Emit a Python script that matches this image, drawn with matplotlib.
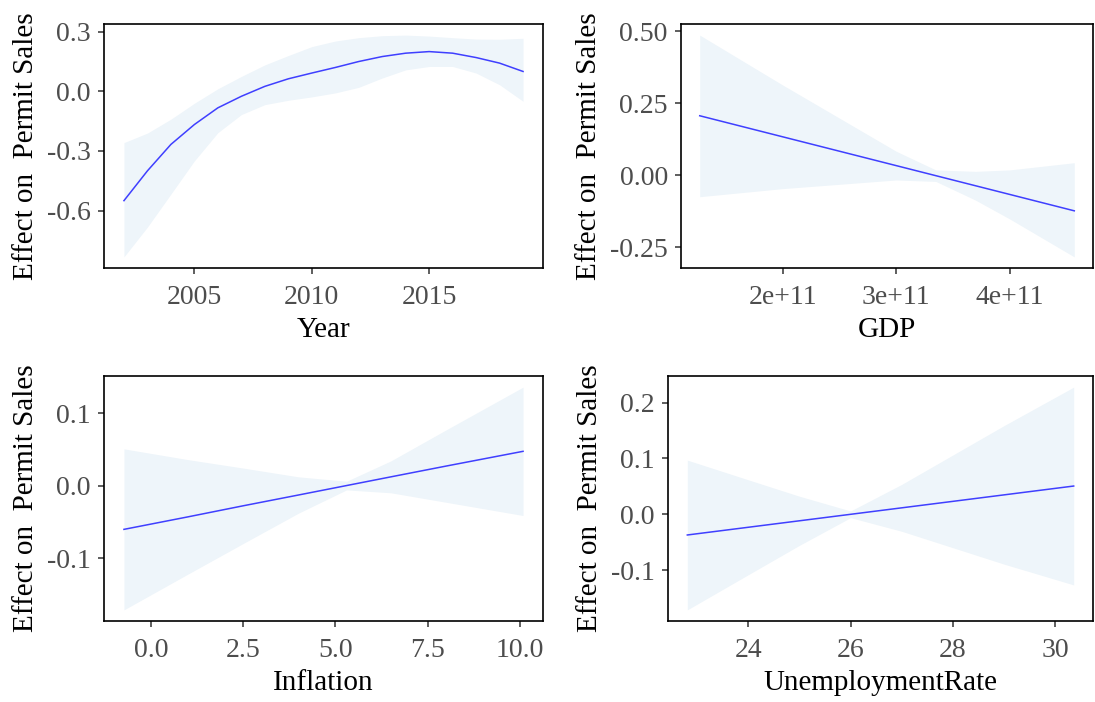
import numpy as np
import matplotlib
matplotlib.use("Agg")
import matplotlib.pyplot as plt

# Year smooth
year = [2002, 2003, 2004, 2005, 2006, 2007, 2008, 2009, 2010, 2011,
        2012, 2013, 2014, 2015, 2016, 2017, 2018, 2019]
year_fit = [-0.55, -0.40, -0.267, -0.167, -0.083, -0.025, 0.025, 0.063, 0.092, 0.12,
            0.15, 0.175, 0.192, 0.20, 0.192, 0.17, 0.142, 0.10]
year_hi = [-0.258, -0.21, -0.14, -0.06, 0.013, 0.075, 0.133, 0.18, 0.225, 0.253,
           0.27, 0.28, 0.283, 0.278, 0.27, 0.263, 0.262, 0.267]
year_lo = [-0.833, -0.683, -0.517, -0.35, -0.208, -0.117, -0.067, -0.045, -0.028, -0.008,
           0.02, 0.067, 0.108, 0.125, 0.125, 0.092, 0.033, -0.05]

# GDP
gdp = [1.27e11, 2.0e11, 2.5e11, 3.0e11, 3.35e11, 3.7e11, 4.0e11, 4.57e11]
gdp_fit = [0.207, 0.134, 0.084, 0.034, -0.001, -0.036, -0.066, -0.123]
gdp_hi = [0.487, 0.314, 0.199, 0.084, 0.019, 0.014, 0.019, 0.044]
gdp_lo = [-0.074, -0.046, -0.031, -0.016, -0.021, -0.086, -0.151, -0.283]

# Inflation
infl = [-0.73, 1.0, 2.5, 4.0, 5.3, 6.5, 8.0, 10.08]
infl_fit = [-0.06, -0.0428, -0.0275, -0.0126, 0.0004, 0.0124, 0.0273, 0.0476]
infl_hi = [0.051, 0.0362, 0.0245, 0.0124, 0.0064, 0.0344, 0.0773, 0.1361]
infl_lo = [-0.171, -0.1218, -0.0795, -0.0376, -0.0056, -0.0096, -0.0227, -0.0409]

# Unemployment
unemp = [22.81, 24, 25, 26, 27, 28, 29, 30.36]
unemp_fit = [-0.037, -0.0232, -0.0116, 0.0, 0.0116, 0.0232, 0.0348, 0.0506]
unemp_hi = [0.097, 0.0618, 0.0324, 0.006, 0.0536, 0.1062, 0.1588, 0.2276]
unemp_lo = [-0.171, -0.1082, -0.0556, -0.006, -0.0304, -0.0598, -0.0892, -0.1264]

plt.rcParams['font.family'] = ['Liberation Serif', 'DejaVu Serif']

fig = plt.figure(figsize=(10.95, 7.02), dpi=100)

W, H = 1095, 702
boxes = [
    (104, 543, 24, 268),
    (681, 1093, 24, 268),
    (104, 543, 376, 621),
    (668, 1093, 376, 621),
]

panels = [
    (year, year_fit, year_lo, year_hi, "Year", [2005, 2010, 2015], ["2005", "2010", "2015"],
     [-0.6, -0.3, 0.0, 0.3], ["-0.6", "-0.3", "0.0", "0.3"]),
    (gdp, gdp_fit, gdp_lo, gdp_hi, "GDP", [2e11, 3e11, 4e11], ["2e+11", "3e+11", "4e+11"],
     [-0.25, 0.0, 0.25, 0.5], ["-0.25", "0.00", "0.25", "0.50"]),
    (infl, infl_fit, infl_lo, infl_hi, "Inflation", [0, 2.5, 5, 7.5, 10],
     ["0.0", "2.5", "5.0", "7.5", "10.0"],
     [-0.1, 0.0, 0.1], ["-0.1", "0.0", "0.1"]),
    (unemp, unemp_fit, unemp_lo, unemp_hi, "UnemploymentRate", [24, 26, 28, 30],
     ["24", "26", "28", "30"],
     [-0.1, 0.0, 0.1, 0.2], ["-0.1", "0.0", "0.1", "0.2"]),
]

for (l, r, t, b), (x, fit, lo, hi, xlab, xt, xtl, yt, ytl) in zip(boxes, panels):
    ax = fig.add_axes([l / W, 1 - b / H, (r - l) / W, (b - t) / H])
    ax.fill_between(x, lo, hi, color="#eef5fa", linewidth=0)
    ax.plot(x, fit, color="#3f3fff", linewidth=1.1)

    x0, x1 = min(x), max(x)
    dx = (x1 - x0) * 0.05
    ax.set_xlim(x0 - dx, x1 + dx)
    y0, y1 = min(lo), max(hi)
    dy = (y1 - y0) * 0.05
    ax.set_ylim(y0 - dy, y1 + dy)

    ax.set_xticks(xt)
    ax.set_xticklabels(xtl)
    ax.set_yticks(yt)
    ax.set_yticklabels(ytl)
    ax.tick_params(labelsize=20, color="#333333", length=4.5, width=1.1,
                   labelcolor="#4d4d4d")
    ax.tick_params(axis="x", pad=8)
    ax.tick_params(axis="y", pad=5)
    for s in ax.spines.values():
        s.set_linewidth(1.2)
        s.set_color("black")
    ax.set_xlabel(xlab, fontsize=21, labelpad=5)
    ax.set_ylabel("Effect on  Permit Sales", fontsize=21, labelpad=6)

fig.savefig("out.png", dpi=100)
